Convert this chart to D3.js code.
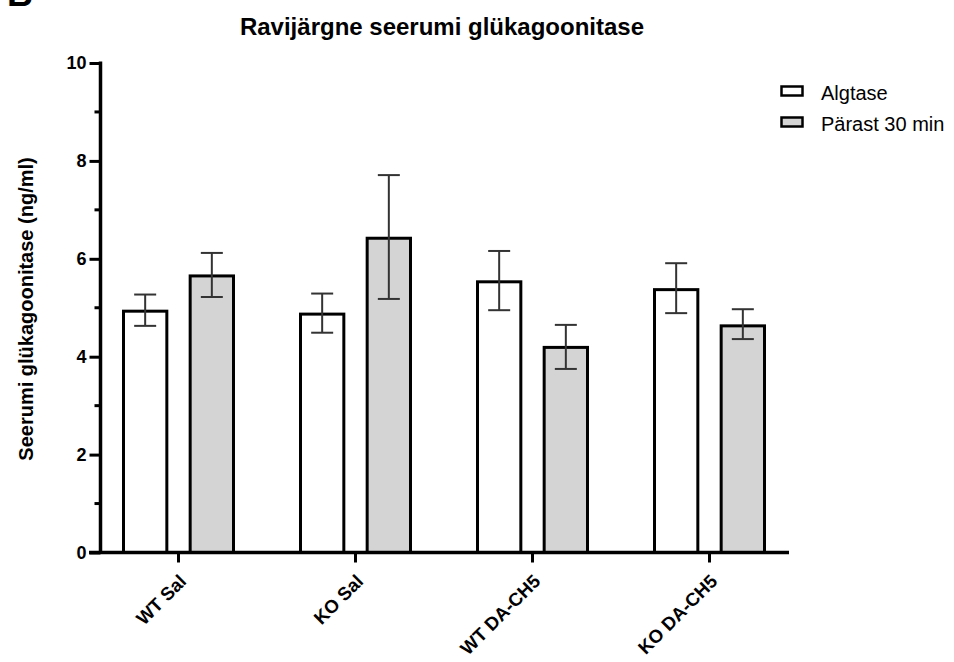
<!DOCTYPE html>
<html>
<head>
<meta charset="utf-8">
<script src="https://cdn.jsdelivr.net/npm/d3@7"></script>
<style>
  body { margin: 0; background: #fff; }
  text { font-family: "Liberation Sans", Arial, sans-serif; }
</style>
</head>
<body>
<svg id="chart" width="954" height="662"></svg>
<script>
// data
const groups = ["WT Sal", "KO Sal", "WT DA-CH5", "KO DA-CH5"];
const seriesNames = ["Algtase", "Pärast 30 min"];
const baseMean = [4.93, 4.87, 5.53, 5.37];
const baseLow = [4.63, 4.49, 4.95, 4.89];
const baseHigh = [5.27, 5.29, 6.16, 5.91];
const afterMean = [5.65, 6.42, 4.19, 4.63];
const afterLow = [5.22, 5.18, 3.75, 4.36];
const afterHigh = [6.12, 7.71, 4.65, 4.97];
const yTicks = [0, 2, 4, 6, 8, 10];
const yMinor = [1, 3, 5, 7, 9];
const fills = ["#ffffff", "#d4d4d4"];

const svg = d3.select("#chart");

const x = d3.scaleBand().domain(groups).range([90, 798]);
const sub = d3.scaleBand().domain(seriesNames).range([-55, 55]).paddingInner(0.35);
const y = d3.scaleLinear().domain([0, 10]).range([552.5, 63]);

// build rows for drawing
const rows = [];
groups.forEach(function(g, i) {
    rows.push({g: g, s: seriesNames[0], v: baseMean[i], lo: baseLow[i], hi: baseHigh[i], f: fills[0]});
    rows.push({g: g, s: seriesNames[1], v: afterMean[i], lo: afterLow[i], hi: afterHigh[i], f: fills[1]});
});

// panel letter (cut at the top of the image, as in the source figure)
svg.append("text").attr("x", 7).attr("y", 6)
    .attr("font-size", 36).attr("font-weight", "bold").text("B");

// title
svg.append("text").attr("x", 442).attr("y", 35)
    .attr("text-anchor", "middle").attr("font-size", 24).attr("font-weight", "bold")
    .text("Ravijärgne seerumi glükagoonitase");

// bars
const cx = function(d) { return x(d.g) + x.bandwidth() / 2 + sub(d.s); };
svg.selectAll("rect.bar").data(rows).enter().append("rect")
    .attr("class", "bar")
    .attr("x", cx)
    .attr("y", function(d) { return y(d.v); })
    .attr("width", sub.bandwidth())
    .attr("height", function(d) { return y(0) - y(d.v); })
    .attr("fill", function(d) { return d.f; })
    .attr("stroke", "#000").attr("stroke-width", 3);

// error bars
const eb = svg.append("g").attr("stroke", "#333").attr("stroke-width", 2);
rows.forEach(function(d) {
    const m = cx(d) + sub.bandwidth() / 2;
    eb.append("line").attr("x1", m).attr("x2", m).attr("y1", y(d.lo)).attr("y2", y(d.hi));
    eb.append("line").attr("x1", m - 11).attr("x2", m + 11).attr("y1", y(d.lo)).attr("y2", y(d.lo));
    eb.append("line").attr("x1", m - 11).attr("x2", m + 11).attr("y1", y(d.hi)).attr("y2", y(d.hi));
});

// y axis
const yAxis = svg.append("g").attr("transform", "translate(100.5,0)")
    .call(d3.axisLeft(y).tickValues(yTicks).tickSize(11).tickSizeOuter(0).tickPadding(3));
yAxis.select(".domain").attr("stroke-width", 3.5).attr("d", "M0," + (y(0)) + "V" + (y(10) - 1.5));
yAxis.selectAll(".tick line").attr("stroke-width", 3);
yAxis.selectAll(".tick text").attr("font-size", 18).attr("font-weight", "bold")
    .attr("font-family", "Liberation Sans, Arial, sans-serif").attr("fill", "#000");
svg.append("g").attr("transform", "translate(100.5,0)")
    .selectAll("line").data(yMinor).enter().append("line")
    .attr("x1", -6).attr("x2", 0)
    .attr("y1", function(d) { return y(d); }).attr("y2", function(d) { return y(d); })
    .attr("stroke", "#000").attr("stroke-width", 3);

// x axis
const xAxis = svg.append("g").attr("transform", "translate(0," + y(0) + ")")
    .call(d3.axisBottom(x).tickSize(10).tickSizeOuter(0));
xAxis.select(".domain").attr("stroke-width", 3.5).attr("d", "M89,0H789");
xAxis.selectAll(".tick line").attr("stroke-width", 3);
xAxis.selectAll(".tick text")
    .attr("font-size", 18.5).attr("font-weight", "bold").attr("fill", "#000")
    .attr("font-family", "Liberation Sans, Arial, sans-serif")
    .attr("text-anchor", "end")
    .attr("x", 0).attr("y", 0).attr("dy", 0)
    .attr("transform", "translate(9,30) rotate(-45)");

// y label
svg.append("text")
    .attr("transform", "translate(33,309) rotate(-90)")
    .attr("text-anchor", "middle").attr("font-size", 20).attr("font-weight", "bold")
    .text("Seerumi glükagoonitase (ng/ml)");

// legend
const legend = svg.append("g");
seriesNames.forEach(function(s, i) {
    const ly = 91 + i * 31;
    legend.append("rect").attr("x", 781.5).attr("y", ly - 4.5).attr("width", 21).attr("height", 9)
        .attr("fill", fills[i]).attr("stroke", "#000").attr("stroke-width", 2.5);
    legend.append("text").attr("x", 821).attr("y", ly + 8.5)
        .attr("font-size", 20).text(s);
});
</script>
</body>
</html>
